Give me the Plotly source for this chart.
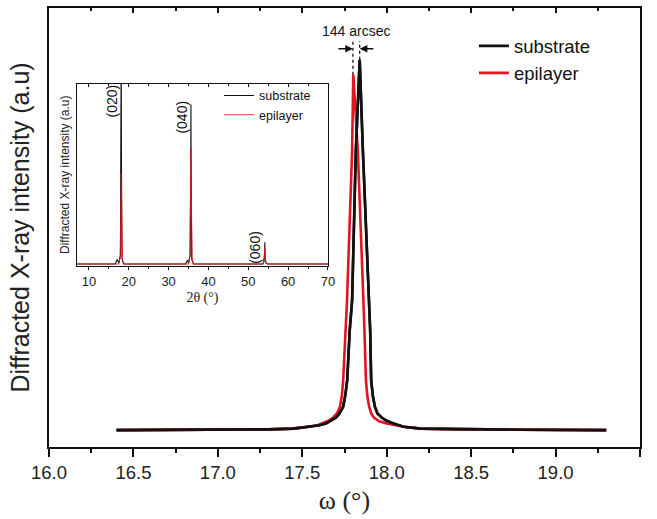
import plotly.graph_objects as go

# ---------------- main rocking curve data (omega, normalized intensity) ----------------
sub_omega = [16.40, 16.80, 17.10, 17.30, 17.45, 17.55, 17.60, 17.64, 17.67, 17.70, 17.72,
             17.742, 17.755, 17.766, 17.781, 17.795, 17.817, 17.840, 17.859, 17.880, 17.895,
             17.902, 17.908, 17.918, 17.930, 17.945, 17.970, 18.000, 18.040, 18.100, 18.200,
             18.500, 18.800, 19.300]
sub_int = [0.000, 0.000, 0.001, 0.002, 0.004, 0.009, 0.013, 0.018, 0.025, 0.034, 0.045,
           0.063, 0.095, 0.134, 0.270, 0.350, 0.753, 1.000, 0.753, 0.520, 0.350,
           0.270, 0.134, 0.092, 0.063, 0.045, 0.034, 0.025, 0.018, 0.009, 0.004,
           0.002, 0.001, 0.000]

epi_omega = [16.40, 16.80, 17.10, 17.30, 17.43, 17.545, 17.59, 17.62, 17.655, 17.683, 17.705,
             17.723, 17.735, 17.742, 17.758, 17.765, 17.795, 17.802, 17.829, 17.850, 17.862,
             17.868, 17.877, 17.885, 17.896, 17.908, 17.924, 17.955, 18.000, 18.100, 18.200,
             18.400, 18.800, 19.300]
epi_int = [0.000, 0.000, 0.001, 0.002, 0.004, 0.009, 0.013, 0.018, 0.025, 0.034, 0.045,
           0.063, 0.095, 0.134, 0.270, 0.350, 0.753, 0.960, 0.753, 0.520, 0.350,
           0.270, 0.134, 0.092, 0.063, 0.045, 0.034, 0.024, 0.018, 0.009, 0.004,
           0.002, 0.001, 0.000]

peak_pos = [17.80, 17.84]        # epilayer, substrate peak positions
peak_max = [0.96, 1.00]
marker_top = 1.051              # top of the dashed guide lines
arrow_level = 1.030
arrow_tail = [17.705, 17.930]
separation_label = "144 arcsec"

# ---------------- inset 2theta scan ----------------
tt_sub = [7.0, 16.6, 17.1, 17.3, 17.5, 17.9, 18.05, 18.1, 18.15, 18.3, 18.7,
          34.2, 34.6, 34.8, 35.0, 35.4, 35.55, 35.6, 35.65, 35.8, 36.2,
          53.6, 53.9, 54.1, 54.15, 54.2, 54.3, 54.5, 54.9, 70.0]
int_sub = [0.0, 0.0, 0.025, 0.01, 0.005, 0.05, 0.6, 1.3, 0.6, 0.03, 0.0,
           0.0, 0.015, 0.02, 0.005, 0.05, 0.5, 0.884, 0.5, 0.03, 0.0,
           0.0, 0.01, 0.06, 0.12, 0.06, 0.02, 0.005, 0.0, 0.0]
tt_epi = [7.0, 17.5, 17.85, 18.0, 18.1, 18.2, 18.4, 18.8,
          35.0, 35.35, 35.5, 35.6, 35.7, 35.9, 36.3,
          53.7, 54.0, 54.15, 54.25, 54.4, 54.8, 70.0]
int_epi = [0.0, 0.0, 0.04, 0.35, 0.50, 0.30, 0.02, 0.0,
           0.0, 0.04, 0.40, 0.643, 0.35, 0.02, 0.0,
           0.0, 0.03, 0.093, 0.04, 0.005, 0.0, 0.0]

reflections = ["(020)", "(040)", "(060)"]
refl_x = [15.7, 33.3, 51.7]
refl_y = [0.905, 0.816, 0.09]

BLACK = "#111111"
RED = "#e3131f"
SANS = "Arial, Liberation Sans, sans-serif"
SERIF = "Times New Roman, Liberation Serif, serif"

fig = go.Figure()

# main curves
fig.add_trace(go.Scatter(x=sub_omega, y=sub_int, mode="lines", name="substrate",
                         line=dict(color=BLACK, width=2.6), xaxis="x", yaxis="y", legend="legend"))
fig.add_trace(go.Scatter(x=epi_omega, y=epi_int, mode="lines", name="epilayer",
                         line=dict(color=RED, width=2.6), xaxis="x", yaxis="y", legend="legend"))
# black drawn again on top (substrate curve partly over epilayer)
fig.add_trace(go.Scatter(x=sub_omega, y=sub_int, mode="lines", showlegend=False, hoverinfo="skip",
                         line=dict(color=BLACK, width=2.6), xaxis="x", yaxis="y"))

# dashed guide lines from peak tips
for px, pm in zip(peak_pos, peak_max):
    fig.add_trace(go.Scatter(x=[px, px], y=[pm, marker_top], mode="lines", showlegend=False,
                             hoverinfo="skip", line=dict(color=BLACK, width=1.3, dash="dot"),
                             xaxis="x", yaxis="y"))

# invisible trace to activate the top mirrored axis of the main plot
fig.add_trace(go.Scatter(x=sub_omega, y=sub_int, mode="lines", showlegend=False, hoverinfo="skip",
                         line=dict(color="rgba(0,0,0,0)", width=0), xaxis="x2", yaxis="y"))

# inset curves
fig.add_trace(go.Scatter(x=tt_sub, y=int_sub, mode="lines", name="substrate",
                         line=dict(color=BLACK, width=1.1), xaxis="x3", yaxis="y3", legend="legend2"))
fig.add_trace(go.Scatter(x=tt_epi, y=int_epi, mode="lines", name="epilayer",
                         line=dict(color=RED, width=1.1), opacity=0.85,
                         xaxis="x3", yaxis="y3", legend="legend2"))
fig.add_trace(go.Scatter(x=tt_sub, y=int_sub, mode="lines", showlegend=False, hoverinfo="skip",
                         line=dict(color="rgba(0,0,0,0)", width=0), xaxis="x4", yaxis="y3"))

annotations = []
# 144 arcsec label and arrows
annotations.append(dict(x=sum(peak_pos) / 2, y=marker_top, xref="x", yref="y", text=separation_label,
                        showarrow=False, yanchor="bottom", yshift=0,
                        font=dict(family=SANS, size=14, color=BLACK)))
annotations.append(dict(x=peak_pos[0], y=arrow_level, ax=arrow_tail[0], ay=arrow_level,
                        xref="x", yref="y", axref="x", ayref="y", text="", showarrow=True,
                        arrowhead=2, arrowsize=1.1, arrowwidth=1.4, arrowcolor=BLACK))
annotations.append(dict(x=peak_pos[1], y=arrow_level, ax=arrow_tail[1], ay=arrow_level,
                        xref="x", yref="y", axref="x", ayref="y", text="", showarrow=True,
                        arrowhead=2, arrowsize=1.1, arrowwidth=1.4, arrowcolor=BLACK))
# reflection labels in inset
for lab, rx, ry in zip(reflections, refl_x, refl_y):
    annotations.append(dict(x=rx, y=ry, xref="x3", yref="y3", text=lab, textangle=-90,
                            showarrow=False, font=dict(family=SANS, size=14, color=BLACK)))

fig.update_layout(
    width=657, height=519,
    margin=dict(l=49, r=17, t=6, b=72),
    paper_bgcolor="white", plot_bgcolor="white",
    font=dict(family=SANS, color=BLACK),
    annotations=annotations,
    xaxis=dict(domain=[0, 1], anchor="y", range=[16, 19.5], tick0=16, dtick=0.5, tickformat=".1f",
               ticks="outside", ticklen=8, tickwidth=1.5, tickcolor=BLACK,
               minor=dict(dtick=0.25, ticks="outside", ticklen=4, tickwidth=1.5, tickcolor=BLACK),
               showline=True, linewidth=1.8, linecolor=BLACK, mirror=True,
               showgrid=False, zeroline=False,
               tickfont=dict(family=SANS, size=18.5, color="#222"),
               title=dict(text="ω (°)", font=dict(family=SERIF, size=26, color="#222"), standoff=9)),
    xaxis2=dict(overlaying="x", side="top", anchor="y", range=[16, 19.5], tick0=16, dtick=0.5,
                ticks="inside", ticklen=5, tickwidth=1.5, tickcolor=BLACK,
                minor=dict(dtick=0.25, ticks="inside", ticklen=3, tickwidth=1.5, tickcolor=BLACK),
                showticklabels=False, showline=False, showgrid=False, zeroline=False),
    yaxis=dict(domain=[0, 1], anchor="x", range=[-0.0457, 1.14], showticklabels=False, ticks="",
               showline=True, linewidth=1.8, linecolor=BLACK, mirror=True,
               showgrid=False, zeroline=False,
               title=dict(text="Diffracted X-ray intensity (a.u)", standoff=10,
                          font=dict(family=SANS, size=25, color="#222"))),
    xaxis3=dict(domain=[0.0474, 0.472], anchor="y3", range=[7, 70], tick0=10, dtick=10,
                ticks="outside", ticklen=3, tickwidth=1, tickcolor=BLACK,
                minor=dict(dtick=5, ticks="outside", ticklen=2, tickwidth=1, tickcolor=BLACK),
                showline=True, linewidth=1.3, linecolor=BLACK, mirror=True,
                showgrid=False, zeroline=False,
                tickfont=dict(family=SANS, size=13, color="#222"),
                title=dict(text="2θ (°)", font=dict(family=SERIF, size=14, color="#222"), standoff=4)),
    xaxis4=dict(overlaying="x3", side="top", anchor="y3", range=[7, 70], tick0=10, dtick=10,
                ticks="inside", ticklen=3, tickwidth=1, tickcolor=BLACK,
                minor=dict(dtick=5, ticks="inside", ticklen=2, tickwidth=1, tickcolor=BLACK),
                showticklabels=False, showline=False, showgrid=False, zeroline=False),
    yaxis3=dict(domain=[0.4127, 0.8277], anchor="x3", range=[-0.01, 1.0], showticklabels=False,
                ticks="", showline=True, linewidth=1.3, linecolor=BLACK, mirror=True,
                showgrid=False, zeroline=False,
                title=dict(text="Diffracted X-ray intensity (a.u)", standoff=3,
                           font=dict(family=SANS, size=12, color="#222"))),
    legend=dict(x=0.719, y=0.956, xanchor="left", yanchor="top", bgcolor="rgba(0,0,0,0)",
                font=dict(family=SANS, size=18.5, color=BLACK), tracegroupgap=0,
                itemwidth=30),
    legend2=dict(x=0.2877, y=0.834, xanchor="left", yanchor="top", bgcolor="rgba(0,0,0,0)",
                 font=dict(family=SANS, size=12.5, color=BLACK), tracegroupgap=0,
                 itemwidth=30),
    showlegend=True,
)

fig.write_html("out.html")
